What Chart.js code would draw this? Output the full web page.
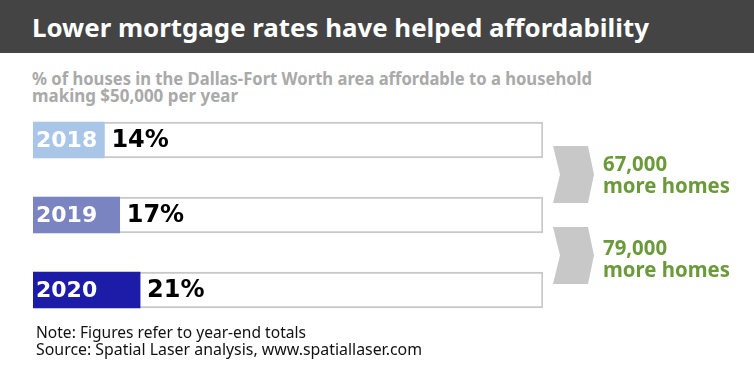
<!DOCTYPE html>
<html><head><meta charset="utf-8">
<script src="https://cdn.jsdelivr.net/npm/chart.js@4"></script>
<style>
html,body{margin:0;padding:0;width:754px;height:377px;overflow:hidden;background:#fff;}
#wrap{position:relative;width:754px;height:377px;}
#c{position:absolute;left:0;top:0;}
.t{position:absolute;white-space:nowrap;transform-origin:0 0;}
#bar{position:absolute;left:0;top:0;width:754px;height:53px;background:#444444;}
#title{left:32px;top:15px;font:bold 25px "Noto Sans","Open Sans",sans-serif;line-height:25px;color:#fff;}
.sub{left:32px;font:bold 17px "Noto Sans","Open Sans",sans-serif;line-height:17px;color:#a9a9a9;}
.green{left:603px;font:bold 21px "Noto Sans","Open Sans",sans-serif;color:#6b9a3b;line-height:22px;}
.foot{left:36px;font:16px "Noto Sans","Open Sans",sans-serif;color:#111;}
.chev{position:absolute;background:#c8c8c8;clip-path:polygon(0 0,35px 0,41px 50%,35px 100%,0 100%,7px 50%);width:41px;}
</style></head>
<body><div id="wrap">
<div id="bar"></div>
<div class="t" id="title" data-w="617">Lower mortgage rates have helped affordability</div>
<div class="t sub" style="top:70px" data-w="560">% of houses in the Dallas-Fort Worth area affordable to a household</div>
<div class="t sub" style="top:87px" data-w="206">making $50,000 per year</div>
<canvas id="c" width="754" height="377"></canvas>
<div class="chev" style="left:553px;top:146px;height:57px"></div>
<div class="chev" style="left:553px;top:227px;height:57px"></div>
<div class="t green" id="g1" style="top:152px" data-w="127"></div>
<div class="t green" id="g2" style="top:236px" data-w="127"></div>
<div class="t foot" style="top:321px" data-w="270">Note: Figures refer to year-end totals</div>
<div class="t foot" style="top:338px" data-w="386">Source: Spatial Laser analysis, www.spatiallaser.com</div>
</div>
<script>
const years = ["2018", "2019", "2020"];
const shares = [14, 17, 21];
const barColors = ["#a9c6e8", "#7a84c0", "#1c1ca8"];
const moreHomes = ["67,000", "79,000"];

document.getElementById('g1').innerHTML = moreHomes[0] + '<br>more homes';
document.getElementById('g2').innerHTML = moreHomes[1] + '<br>more homes';

document.querySelectorAll('[data-w]').forEach(el => {
  const w = el.getBoundingClientRect().width;
  const target = +el.dataset.w;
  if (w > 0) el.style.transform = 'scaleX(' + (target / w) + ')';
});

const labelPlugin = {
  id: 'labels',
  afterDatasetsDraw(chart) {
    const ctx = chart.ctx;
    const meta = chart.getDatasetMeta(0);
    ctx.save();
    ctx.textBaseline = 'middle';
    meta.data.forEach((bar, i) => {
      const left = chart.scales.x.getPixelForValue(0);
      ctx.fillStyle = '#ffffff';
      ctx.font = 'bold 22px "DejaVu Sans", sans-serif';
      ctx.textAlign = 'left';
      ctx.fillText(years[i], left + 3, bar.y + 1);
      ctx.fillStyle = '#000000';
      ctx.font = 'bold 24px "DejaVu Sans", sans-serif';
      ctx.fillText(shares[i] + '%', bar.x + 7, bar.y + 1);
    });
    ctx.restore();
  }
};

new Chart(document.getElementById('c'), {
  type: 'bar',
  data: {
    labels: years,
    datasets: [
      { data: shares, backgroundColor: barColors, borderWidth: 0, barThickness: 36, grouped: false },
      { data: years.map(() => 100), backgroundColor: '#ffffff', borderColor: '#c8c8c8', borderWidth: 2, borderSkipped: false, barThickness: 36, grouped: false }
    ]
  },
  options: {
    indexAxis: 'y',
    responsive: false,
    animation: false,
    layout: { padding: { left: 33, right: 211, top: 102.5, bottom: 49.5 } },
    scales: {
      x: { display: false, min: 0, max: 100 },
      y: { display: false }
    },
    plugins: { legend: { display: false }, tooltip: { enabled: false } }
  },
  plugins: [labelPlugin]
});
</script>
</body></html>
